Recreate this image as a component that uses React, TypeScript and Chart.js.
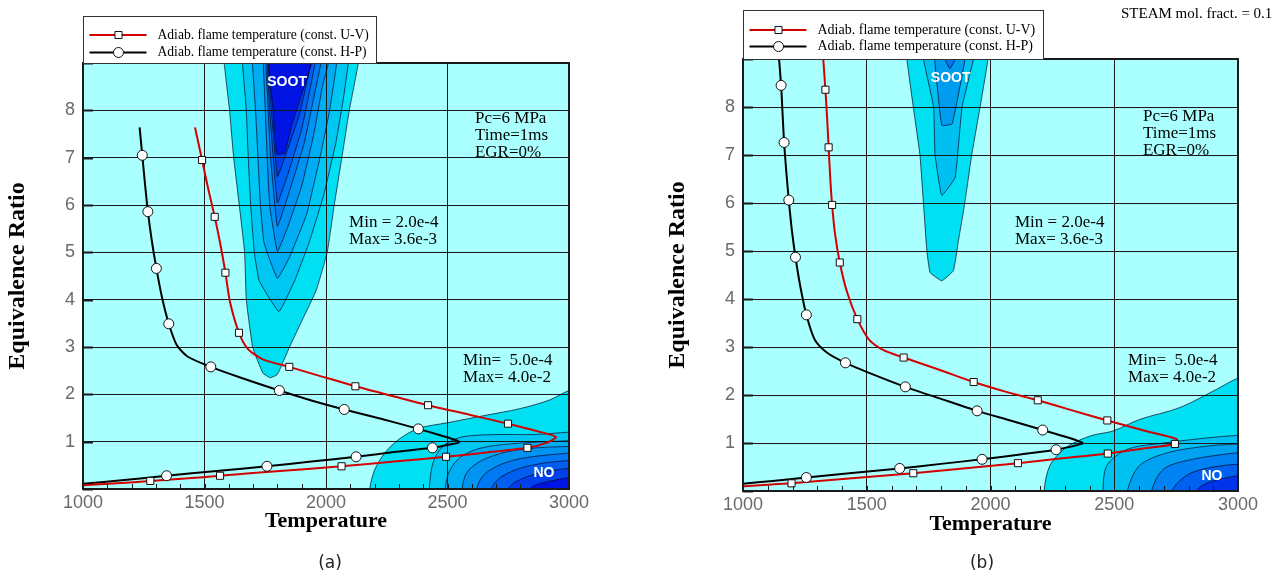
import React, { useEffect, useRef } from 'react';
import { Chart, registerables } from 'chart.js';

type Pt = [number, number];

// ---------------- shared labels / ticks ----------------
const legendLabels = [
  'Adiab. flame temperature (const. U-V)',
  'Adiab. flame temperature (const. H-P)',
];
const xTickValues = [1000, 1500, 2000, 2500, 3000];
const xMinorStep = 100;
const yTickValues = [0, 1, 2, 3, 4, 5, 6, 7, 8, 9];
const yTickLabels = ['', '1', '2', '3', '4', '5', '6', '7', '8', ''];
const xTitle = 'Temperature';
const yTitle = 'Equivalence Ratio';
const levelColors = ['#00E0F2', '#00C6F2', '#00ADF2', '#0094F2', '#007AF2', '#005EF0', '#0040EC', '#0014E4'];

// ---------------- panel (a) ----------------
const uvCurveA: Pt[] = [
  [1461, 7.64], [1490, 6.95], [1515, 6.35], [1542, 5.75], [1566, 5.15], [1586, 4.57], [1605, 3.95],
  [1642, 3.3], [1680, 2.95], [1740, 2.74], [1849, 2.58], [1980, 2.38], [2121, 2.17], [2270, 1.97],
  [2420, 1.77], [2590, 1.57], [2749, 1.38], [2870, 1.22], [2946, 1.1], [2910, 0.98], [2829, 0.87],
  [2660, 0.77], [2494, 0.68], [2280, 0.58], [2064, 0.48], [1810, 0.38], [1564, 0.28], [1420, 0.22],
  [1277, 0.17], [1140, 0.12], [1000, 0.08],
];
const uvMarkersA: Pt[] = [
  [1490, 6.95], [1542, 5.75], [1586, 4.57], [1642, 3.3], [1849, 2.58], [2121, 2.17], [2420, 1.77],
  [2749, 1.38], [2829, 0.87], [2494, 0.68], [2064, 0.48], [1564, 0.28], [1277, 0.17],
];
const hpCurveA: Pt[] = [
  [1233, 7.64], [1244, 7.05], [1255, 6.45], [1267, 5.86], [1283, 5.25], [1302, 4.66], [1325, 4.05],
  [1353, 3.49], [1385, 3.05], [1430, 2.8], [1526, 2.58], [1650, 2.35], [1808, 2.08], [1940, 1.87],
  [2075, 1.68], [2230, 1.48], [2380, 1.27], [2480, 1.12], [2530, 1.04], [2548, 0.99], [2520, 0.95],
  [2438, 0.87], [2280, 0.78], [2124, 0.68], [1940, 0.58], [1757, 0.48], [1550, 0.38], [1344, 0.28],
  [1170, 0.19], [1000, 0.11],
];
const hpMarkersA: Pt[] = [
  [1244, 7.05], [1267, 5.86], [1302, 4.66], [1353, 3.49], [1526, 2.58], [1808, 2.08], [2075, 1.68],
  [2380, 1.27], [2438, 0.87], [2124, 0.68], [1757, 0.48], [1344, 0.28],
];
// soot contour levels, outermost first
const sootLevelsA: Pt[][] = [
  [[1578, 9.5], [1581, 9], [1603, 8], [1620, 7], [1643, 6], [1665, 5], [1672, 4], [1698, 3], [1740, 2.45],
    [1770, 2.35], [1800, 2.42], [1850, 3], [1905, 3.6], [1960, 4.2], [2005, 5], [2034, 6], [2065, 7],
    [2096, 8], [2133, 9], [2140, 9.5]],
  [[1650, 9.5], [1656, 9], [1672, 8], [1680, 7], [1690, 6], [1705, 5], [1725, 4.4], [1806, 3.75],
    [1871, 4.4], [1930, 5.2], [1990, 6.2], [2040, 7.3], [2070, 8.2], [2092, 9], [2098, 9.5]],
  [[1693, 9.5], [1697, 9], [1710, 8], [1720, 7], [1730, 6], [1745, 5.2], [1800, 4.45], [1850, 4.9],
    [1920, 5.8], [1975, 7], [2015, 8], [2044, 9], [2050, 9.5]],
  [[1738, 9.5], [1742, 9], [1750, 8], [1758, 7], [1768, 6], [1800, 5.02], [1840, 5.5], [1900, 6.4],
    [1950, 7.5], [1985, 8.5], [2010, 9], [2015, 9.5]],
  [[1748, 9.5], [1752, 9], [1762, 8], [1772, 7], [1800, 5.55], [1850, 6.3], [1910, 7.3], [1955, 8.4],
    [1979, 9], [1983, 9.5]],
  [[1755, 9.5], [1758, 9], [1768, 8], [1800, 6.05], [1840, 6.6], [1900, 7.6], [1940, 8.6], [1955, 9],
    [1958, 9.5]],
  [[1760, 9.5], [1762, 9], [1775, 8], [1800, 6.6], [1830, 7.0], [1890, 7.9], [1930, 8.8], [1948, 9.5]],
  [[1760, 9.5], [1763, 9], [1782, 8], [1797, 7.08], [1830, 7.1], [1860, 7.7], [1910, 8.5], [1941, 9],
    [1945, 9.5]],
];
const noLevelsA: Pt[][] = [
  [[2180, -0.5], [2180, 0], [2200, 0.4], [2240, 0.75], [2300, 1.05], [2380, 1.28], [2500, 1.4], [2650, 1.55],
    [2800, 1.7], [2920, 1.88], [3000, 2.08], [3100, 2.2], [3100, -0.5]],
  [[2425, -0.5], [2425, 0], [2440, 0.55], [2480, 0.9], [2560, 1.1], [2700, 1.15], [2850, 1.15], [3000, 1.2],
    [3100, 1.22], [3100, -0.5]],
  [[2490, -0.5], [2490, 0], [2510, 0.4], [2560, 0.7], [2650, 0.88], [2800, 0.97], [3000, 1.02],
    [3100, 1.04], [3100, -0.5]],
  [[2560, -0.5], [2560, 0], [2580, 0.35], [2640, 0.6], [2740, 0.78], [2870, 0.87], [3000, 0.9],
    [3100, 0.92], [3100, -0.5]],
  [[2620, -0.5], [2620, 0], [2650, 0.3], [2720, 0.52], [2820, 0.66], [3000, 0.76], [3100, 0.8], [3100, -0.5]],
  [[2680, -0.5], [2680, 0], [2720, 0.25], [2800, 0.44], [2900, 0.55], [3000, 0.6], [3100, 0.63], [3100, -0.5]],
  [[2750, -0.5], [2750, 0], [2800, 0.2], [2880, 0.34], [3000, 0.44], [3100, 0.48], [3100, -0.5]],
  [[2840, -0.5], [2840, 0], [2900, 0.14], [3000, 0.24], [3100, 0.3], [3100, -0.5]],
];

// ---------------- panel (b) ----------------
const uvCurveB: Pt[] = [
  [1320, 9.3], [1333, 8.36], [1340, 7.76], [1346, 7.16], [1352, 6.56], [1360, 5.96], [1372, 5.35],
  [1391, 4.76], [1420, 4.15], [1462, 3.58], [1510, 3.15], [1570, 2.93], [1649, 2.78], [1790, 2.53],
  [1932, 2.27], [2060, 2.07], [2191, 1.89], [2330, 1.68], [2472, 1.47], [2620, 1.26], [2752, 1.08],
  [2745, 0.98], [2610, 0.88], [2474, 0.78], [2290, 0.68], [2111, 0.58], [1900, 0.475], [1688, 0.37],
  [1440, 0.265], [1196, 0.16], [1000, 0.1],
];
const uvMarkersB: Pt[] = [
  [1333, 8.36], [1346, 7.16], [1360, 5.96], [1391, 4.76], [1462, 3.58], [1649, 2.78], [1932, 2.27],
  [2191, 1.89], [2472, 1.47], [2745, 0.98], [2474, 0.78], [2111, 0.58], [1688, 0.37], [1196, 0.16],
];
const hpCurveB: Pt[] = [
  [1141, 9.3], [1154, 8.45], [1160, 7.85], [1166, 7.26], [1175, 6.65], [1185, 6.06], [1197, 5.45],
  [1212, 4.87], [1232, 4.25], [1256, 3.67], [1290, 3.15], [1340, 2.88], [1414, 2.67], [1530, 2.42],
  [1656, 2.17], [1800, 1.92], [1946, 1.67], [2080, 1.47], [2211, 1.27], [2310, 1.12], [2372, 1.0],
  [2345, 0.95], [2265, 0.86], [2120, 0.76], [1966, 0.66], [1800, 0.565], [1633, 0.47], [1440, 0.375],
  [1256, 0.28], [1120, 0.21], [1000, 0.15],
];
const hpMarkersB: Pt[] = [
  [1154, 8.45], [1166, 7.26], [1185, 6.06], [1212, 4.87], [1256, 3.67], [1414, 2.67], [1656, 2.17],
  [1946, 1.67], [2211, 1.27], [2265, 0.86], [1966, 0.66], [1633, 0.47], [1256, 0.28],
];
const sootLevelsB: Pt[][] = [
  [[1655, 9.5], [1662, 9], [1688, 8], [1715, 7], [1729, 6], [1743, 5], [1756, 4.55], [1803, 4.38],
    [1850, 4.59], [1870, 5.2], [1896, 6], [1924, 7], [1958, 8], [1990, 9], [1995, 9.5]],
  [[1725, 9.5], [1729, 9], [1770, 8], [1776, 7], [1803, 6.16], [1857, 6.53], [1885, 8], [1931, 9],
    [1935, 9.5]],
  [[1770, 9.5], [1774, 9], [1803, 7.62], [1845, 7.65], [1897, 9], [1900, 9.5]],
  [[1812, 9.5], [1816, 9], [1836, 8.8], [1857, 9], [1860, 9.5]],
];
const noLevelsB: Pt[][] = [
  [[2216, -0.5], [2216, 0], [2240, 0.53], [2306, 0.91], [2405, 1.15], [2495, 1.25], [2602, 1.49],
    [2766, 1.74], [2914, 2.12], [3000, 2.35], [3100, 2.45], [3100, -0.5]],
  [[2454, -0.5], [2454, 0], [2470, 0.53], [2553, 0.87], [2701, 1.0], [2882, 1.11], [3000, 1.16],
    [3100, 1.2], [3100, -0.5]],
  [[2553, -0.5], [2553, 0], [2602, 0.53], [2717, 0.8], [2882, 0.94], [3000, 0.98], [3100, 1.0], [3100, -0.5]],
  [[2651, -0.5], [2651, 0], [2700, 0.46], [2816, 0.66], [3000, 0.8], [3100, 0.84], [3100, -0.5]],
  [[2733, -0.5], [2733, 0], [2800, 0.35], [2900, 0.5], [3000, 0.56], [3100, 0.6], [3100, -0.5]],
  [[2832, -0.5], [2832, 0], [2882, 0.18], [3000, 0.32], [3100, 0.38], [3100, -0.5]],
];

// ---------------- annotation texts ----------------
const condText = ['Pc=6 MPa', 'Time=1ms', 'EGR=0%'];
const sootRange = ['Min = 2.0e-4', 'Max= 3.6e-3'];
const noRange = ['Min=  5.0e-4', 'Max= 4.0e-2'];
const sootLabel = 'SOOT';
const noLabel = 'NO';
const steamText = 'STEAM mol. fract. = 0.1';

// ---------------- plugins ----------------
const plotBackground = {
  id: 'plotBackground',
  beforeDraw(chart: any, _a: any, opts: any) {
    const { ctx, chartArea: a } = chart;
    ctx.save();
    ctx.fillStyle = (opts && opts.color) || '#AAFFFF';
    ctx.fillRect(a.left, a.top, a.right - a.left, a.bottom - a.top);
    ctx.restore();
  },
};
Chart.register(plotBackground);
Chart.register(...registerables);

const toXY = (pts: Pt[]) => pts.map(([x, y]) => ({ x, y }));

interface PanelSpec {
  key: string;
  canvasLeft: number;
  width: number;
  left: number;
  right: number;
  top: number;
  bottom: number;
  yTitlePad: number;
  xTitlePad: number;
  legendHeight: number;
  legendRows: number[];
  legendFontSize: number;
  uvCurve: Pt[];
  uvMarkers: Pt[];
  hpCurve: Pt[];
  hpMarkers: Pt[];
  soot: Pt[][];
  no: Pt[][];
  sootColors: string[];
  noColors: string[];
  annotations: { lines: string[]; x: number; y: number; font: string; color: string; gap: number; align: CanvasTextAlign }[];
  freeTexts: { text: string; x: number; y: number; font: string; color: string; align: CanvasTextAlign }[];
}

const H = 578;
const serif = '"Liberation Serif", "Times New Roman", serif';
const sans = '"Liberation Sans", Arial, sans-serif';
const annFont = `17px ${serif}`;
const labelFont = `bold 14px ${sans}`;
const tickColor = '#6a6a6a';

const panels: PanelSpec[] = [
  {
    key: 'a', canvasLeft: 0, width: 640, left: 83, right: 569, top: 63, bottom: 489,
    yTitlePad: 3, xTitlePad: 43, legendHeight: 47, legendRows: [18.5, 36], legendFontSize: 13.6,
    uvCurve: uvCurveA, uvMarkers: uvMarkersA, hpCurve: hpCurveA, hpMarkers: hpMarkersA,
    soot: sootLevelsA, no: noLevelsA,
    sootColors: levelColors, noColors: levelColors,
    annotations: [
      { lines: condText, x: 2613, y: 7.83, font: annFont, color: '#000', gap: 17, align: 'left' },
      { lines: sootRange, x: 2095, y: 5.62, font: annFont, color: '#000', gap: 17, align: 'left' },
      { lines: noRange, x: 2564, y: 2.72, font: annFont, color: '#000', gap: 17, align: 'left' },
      { lines: [sootLabel], x: 1840, y: 8.6, font: labelFont, color: '#fff', gap: 0, align: 'center' },
      { lines: [noLabel], x: 2897, y: 0.33, font: labelFont, color: '#fff', gap: 0, align: 'center' },
    ],
    freeTexts: [{ text: '(a)', x: 330, y: 564, font: `17px "DejaVu Sans", Verdana, sans-serif`, color: '#222', align: 'center' }],
  },
  {
    key: 'b', canvasLeft: 640, width: 637, left: 103, right: 598, top: 59, bottom: 491,
    yTitlePad: 23, xTitlePad: 40, legendHeight: 49, legendRows: [19.5, 36], legendFontSize: 14,
    uvCurve: uvCurveB, uvMarkers: uvMarkersB, hpCurve: hpCurveB, hpMarkers: hpMarkersB,
    soot: sootLevelsB, no: noLevelsB,
    sootColors: ['#00E0F2', '#00C0F2', '#009CF0', '#0078F0'],
    noColors: ['#00E0F2', '#00C2F2', '#00A2F2', '#0082F2', '#0060F0', '#0034EA'],
    annotations: [
      { lines: condText, x: 2616, y: 7.8, font: annFont, color: '#000', gap: 17, align: 'left' },
      { lines: sootRange, x: 2099, y: 5.59, font: annFont, color: '#000', gap: 17, align: 'left' },
      { lines: noRange, x: 2556, y: 2.72, font: annFont, color: '#000', gap: 17, align: 'left' },
      { lines: [sootLabel], x: 1839, y: 8.61, font: labelFont, color: '#fff', gap: 0, align: 'center' },
      { lines: [noLabel], x: 2895, y: 0.3, font: labelFont, color: '#fff', gap: 0, align: 'center' },
    ],
    freeTexts: [
      { text: '(b)', x: 342, y: 564, font: `17px "DejaVu Sans", Verdana, sans-serif`, color: '#222', align: 'center' },
      { text: steamText, x: 481, y: 14, font: `15px ${serif}`, color: '#000', align: 'left' },
    ],
  },
];

const UV_COLOR = '#D40000';
const HP_COLOR = '#000000';

function drawMarker(ctx: CanvasRenderingContext2D, style: string, x: number, y: number) {
  ctx.save();
  ctx.fillStyle = '#fff';
  ctx.strokeStyle = '#111';
  ctx.lineWidth = 1;
  ctx.beginPath();
  if (style === 'rect') {
    const s = Math.SQRT1_2 * 5;
    ctx.rect(x - s, y - s, 2 * s, 2 * s);
  } else {
    ctx.arc(x, y, 5, 0, Math.PI * 2);
  }
  ctx.fill();
  ctx.stroke();
  ctx.restore();
}

function makePlugins(p: PanelSpec) {
  const legendBox = {
    id: 'legendBox',
    afterDraw(chart: any) {
      const { ctx, chartArea: a } = chart;
      const font = `${p.legendFontSize}px ${serif}`;
      ctx.save();
      ctx.font = font;
      const textX = 74;
      const tw = Math.max(...legendLabels.map((t) => ctx.measureText(t).width));
      const x0 = Math.round(a.left) + 0.5;
      const y0 = Math.round(a.top - p.legendHeight) + 0.5;
      const w = Math.round(textX + tw + 8);
      ctx.fillStyle = '#fff';
      ctx.fillRect(x0, y0, w, p.legendHeight);
      ctx.strokeStyle = '#333';
      ctx.lineWidth = 1;
      ctx.strokeRect(x0, y0, w, p.legendHeight);
      const rows = [
        { color: UV_COLOR, style: 'rect', text: legendLabels[0] },
        { color: HP_COLOR, style: 'circle', text: legendLabels[1] },
      ];
      rows.forEach((r, i) => {
        const y = y0 + p.legendRows[i];
        ctx.strokeStyle = r.color;
        ctx.lineWidth = 2;
        ctx.beginPath();
        ctx.moveTo(x0 + 6, y);
        ctx.lineTo(x0 + 63, y);
        ctx.stroke();
        drawMarker(ctx, r.style, x0 + 35, y);
        ctx.fillStyle = '#000';
        ctx.font = font;
        ctx.textAlign = 'left';
        ctx.textBaseline = 'middle';
        ctx.fillText(r.text, x0 + textX, y);
      });
      ctx.restore();
    },
  };
  const frame = {
    id: 'frameAndText',
    afterDatasetsDraw(chart: any) {
      const { ctx, chartArea: a, scales } = chart;
      const xs = scales.x;
      const ys = scales.y;
      ctx.save();
      ctx.strokeStyle = '#1a1a1a';
      ctx.lineWidth = 1;
      for (let v = xs.min + xMinorStep; v < xs.max; v += xMinorStep) {
        const px = Math.round(xs.getPixelForValue(v)) + 0.5;
        ctx.beginPath();
        ctx.moveTo(px, a.bottom);
        ctx.lineTo(px, a.bottom - 5);
        ctx.stroke();
      }
      yTickValues.forEach((v) => {
        const py = Math.round(ys.getPixelForValue(v)) + 0.5;
        ctx.beginPath();
        ctx.lineWidth = 2;
        ctx.moveTo(a.left, py);
        ctx.lineTo(a.left + 10, py);
        ctx.stroke();
      });
      ctx.lineWidth = 2;
      ctx.strokeStyle = '#1a1a1a';
      ctx.strokeRect(a.left, a.top, a.right - a.left, a.bottom - a.top);
      p.annotations.forEach((an) => {
        ctx.font = an.font;
        ctx.fillStyle = an.color;
        ctx.textAlign = an.align;
        ctx.textBaseline = 'middle';
        const px = xs.getPixelForValue(an.x);
        const py = ys.getPixelForValue(an.y);
        an.lines.forEach((t, i) => ctx.fillText(t, px, py + i * an.gap));
      });
      ctx.restore();
    },
    afterDraw(chart: any) {
      const { ctx } = chart;
      ctx.save();
      p.freeTexts.forEach((t) => {
        ctx.font = t.font;
        ctx.fillStyle = t.color;
        ctx.textAlign = t.align;
        ctx.textBaseline = 'middle';
        ctx.fillText(t.text, t.x, t.y);
      });
      ctx.restore();
    },
  };
  return [legendBox, frame];
}

function buildDatasets(p: PanelSpec) {
  const ds: any[] = [
    {
      label: legendLabels[0], data: toXY(p.uvMarkers), showLine: false, pointStyle: 'rect', pointRadius: 5,
      pointBackgroundColor: '#fff', pointBorderColor: '#111', pointBorderWidth: 1, fill: false,
    },
    {
      label: legendLabels[1], data: toXY(p.hpMarkers), showLine: false, pointStyle: 'circle', pointRadius: 5,
      pointBackgroundColor: '#fff', pointBorderColor: '#111', pointBorderWidth: 1, fill: false,
    },
    {
      label: 'uv-line', data: toXY(p.uvCurve), borderColor: UV_COLOR, borderWidth: 2, pointRadius: 0,
      tension: 0.25, fill: false, capBezierPoints: false,
    },
    {
      label: 'hp-line', data: toXY(p.hpCurve), borderColor: HP_COLOR, borderWidth: 2, pointRadius: 0,
      tension: 0.25, fill: false, capBezierPoints: false,
    },
  ];
  const addLevels = (levels: Pt[][], colors: string[], tension: number) => {
    for (let i = levels.length - 1; i >= 0; i--) {
      ds.push({
        label: 'level', data: toXY(levels[i]), fill: 'shape', backgroundColor: colors[i],
        borderColor: 'rgba(0,0,30,0.85)', borderWidth: 0.8, pointRadius: 0, tension, capBezierPoints: false,
      });
    }
  };
  addLevels(p.soot, p.sootColors, 0.1);
  addLevels(p.no, p.noColors, 0.3);
  return ds;
}

function Panel({ p }: { p: PanelSpec }) {
  const ref = useRef<HTMLCanvasElement | null>(null);
  useEffect(() => {
    if (!ref.current) return;
    const chart = new Chart(ref.current, {
      type: 'line',
      data: { datasets: buildDatasets(p) },
      options: {
        responsive: false,
        animation: false,
        devicePixelRatio: 1,
        events: [],
        layout: { padding: { left: 0, top: p.top, right: p.width - p.right, bottom: 0 } },
        plugins: {
          legend: { display: false },
          tooltip: { enabled: false },
          filler: { drawTime: 'beforeDraw', propagate: false },
          plotBackground: { color: '#AAFFFF' },
        } as any,
        scales: {
          x: {
            type: 'linear', min: xTickValues[0], max: xTickValues[xTickValues.length - 1],
            afterBuildTicks: (s: any) => { s.ticks = xTickValues.map((v) => ({ value: v })); },
            afterFit: (s: any) => { s.height = H - p.bottom; },
            ticks: {
              autoSkip: false, maxRotation: 0, padding: 3, color: tickColor,
              font: { family: sans, size: 18 },
              callback: (v: any) => String(v),
            },
            grid: { color: '#1a1a1a', lineWidth: 1, drawTicks: false },
            border: { display: false },
            title: {
              display: true, text: xTitle, color: '#000',
              font: { family: serif, size: 22, weight: 'bold' },
              padding: { top: 0, bottom: p.xTitlePad },
            },
          },
          y: {
            type: 'linear', min: yTickValues[0], max: yTickValues[yTickValues.length - 1],
            afterBuildTicks: (s: any) => { s.ticks = yTickValues.map((v) => ({ value: v })); },
            afterFit: (s: any) => { s.width = p.left; },
            ticks: {
              autoSkip: false, padding: 8, color: tickColor,
              font: { family: sans, size: 18 },
              callback: (_v: any, i: number) => yTickLabels[i],
            },
            grid: { color: '#1a1a1a', lineWidth: 1, drawTicks: false },
            border: { display: false },
            title: {
              display: true, text: yTitle, color: '#000',
              font: { family: serif, size: 24, weight: 'bold' },
              padding: { top: p.yTitlePad, bottom: 0 },
            },
          },
        } as any,
      },
      plugins: makePlugins(p),
    });
    return () => chart.destroy();
  }, [p]);
  return (
    <canvas
      ref={ref}
      width={p.width}
      height={H}
      style={{ position: 'absolute', left: p.canvasLeft, top: 0, width: p.width, height: H }}
    />
  );
}

export default function App() {
  useEffect(() => {
    document.body.style.margin = '0';
    document.body.style.background = '#fff';
  }, []);
  return (
    <div style={{ position: 'absolute', left: 0, top: 0, width: 1277, height: H, background: '#fff', overflow: 'hidden' }}>
      {panels.map((p) => (
        <Panel key={p.key} p={p} />
      ))}
    </div>
  );
}
